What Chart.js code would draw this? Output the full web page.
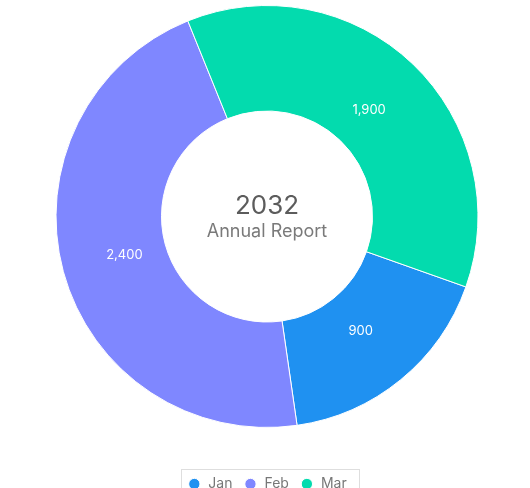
<!DOCTYPE html>
<html><head><meta charset="utf-8">
<script src="https://cdn.jsdelivr.net/npm/chart.js@4"></script>
<style>html,body{margin:0;padding:0;overflow:hidden;background:#fff}canvas{display:block}</style>
</head><body>
<canvas id="c" width="530" height="501"></canvas>
<script>
const categories = ['Jan', 'Feb', 'Mar'];
const values = [900, 2400, 1900];
const colors = ['#1F91F1', '#7F87FF', '#03DBAE'];
const centerTitle = '2032';
const centerSubtitle = 'Annual Report';

const FONT = 'Inter, "Noto Sans", sans-serif';

const sliceLabels = {
  id: 'sliceLabels',
  afterDatasetsDraw(chart) {
    const ctx = chart.ctx;
    const meta = chart.getDatasetMeta(0);
    ctx.save();
    ctx.font = '13px ' + FONT;
    ctx.fillStyle = '#ffffff';
    ctx.textAlign = 'center';
    ctx.textBaseline = 'middle';
    meta.data.forEach((arc, i) => {
      const p = arc.getProps(['x', 'y', 'startAngle', 'endAngle', 'outerRadius'], true);
      const a = (p.startAngle + p.endAngle) / 2;
      const r = p.outerRadius * 0.7;
      ctx.fillText(values[i].toLocaleString('en-US'), p.x + Math.cos(a) * r, p.y + Math.sin(a) * r);
    });
    ctx.restore();
  }
};

const centerText = {
  id: 'centerText',
  afterDatasetsDraw(chart) {
    const ctx = chart.ctx;
    const arc = chart.getDatasetMeta(0).data[0];
    const cx = arc.x, cy = arc.y;
    ctx.save();
    ctx.textAlign = 'center';
    ctx.textBaseline = 'middle';
    ctx.fillStyle = '#5c5c5c';
    ctx.font = '26px ' + FONT;
    ctx.fillText(centerTitle, cx, cy - 10);
    ctx.fillStyle = '#7a7a7a';
    ctx.font = '18px ' + FONT;
    ctx.fillText(centerSubtitle, cx, cy + 15);
    ctx.restore();
  }
};

const legendBorder = {
  id: 'legendBorder',
  afterDraw(chart) {
    const hb = chart.legend && chart.legend.legendHitBoxes;
    if (!hb || !hb.length) return;
    const last = hb[hb.length - 1];
    const left = Math.round(hb[0].left - 6);
    const right = Math.round(last.left + last.width + 12);
    const top = Math.round(hb[0].top - 8);
    const ctx = chart.ctx;
    ctx.save();
    ctx.strokeStyle = '#dedede';
    ctx.lineWidth = 1;
    ctx.strokeRect(left + 0.5, top + 0.5, right - left, 60);
    ctx.restore();
  }
};

new Chart(document.getElementById('c'), {
  type: 'doughnut',
  data: {
    labels: categories,
    datasets: [{
      data: values,
      backgroundColor: colors,
      borderColor: '#ffffff',
      borderWidth: 1
    }]
  },
  options: {
    responsive: false,
    animation: false,
    devicePixelRatio: 1,
    cutout: '50%',
    rotation: 109.5,
    layout: { padding: { top: 5, left: 4, right: 0, bottom: 0 } },
    plugins: {
      tooltip: { enabled: false },
      legend: {
        position: 'bottom',
        title: { display: true, text: ' ', padding: 0, font: { size: 38, lineHeight: 1 } },
        labels: {
          usePointStyle: true,
          pointStyle: 'circle',
          boxWidth: 14,
          boxHeight: 8,
          padding: 11,
          color: '#777777',
          font: { family: FONT, size: 14 }
        }
      }
    }
  },
  plugins: [sliceLabels, centerText, legendBorder]
});
</script>
</body></html>
